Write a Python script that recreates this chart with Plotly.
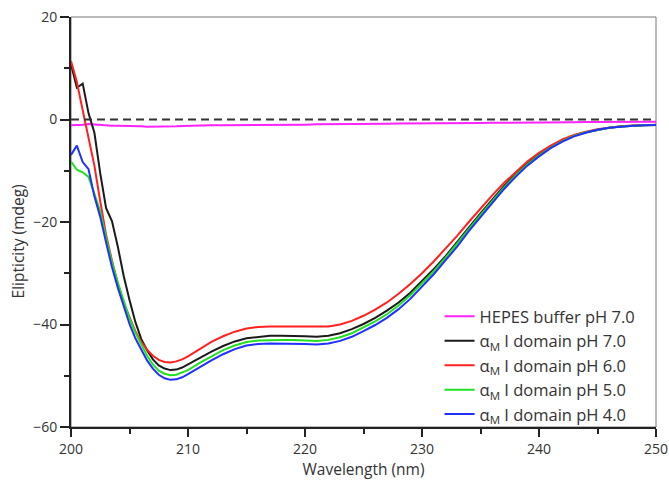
import plotly.graph_objects as go

# Wavelength grid (nm): 0.5 nm steps up to 210 nm, then 1 nm steps
wavelength = [200 + 0.5 * i for i in range(21)] + list(range(211, 251))

# Ellipticity (mdeg) for each sample
hepes_ph70 = [-1.1, -1.1, -1.0, -0.9, -1.0, -1.1, -1.1, -1.2, -1.2, -1.2, -1.2,
              -1.3, -1.3, -1.4, -1.4, -1.4, -1.4, -1.35, -1.3, -1.25, -1.2,
              -1.15, -1.1, -1.1, -1.1, -1.05, -1.05, -1.0, -1.0, -1.0, -1.0,
              -0.95, -0.95, -0.9, -0.9, -0.9, -0.85, -0.85, -0.8, -0.8, -0.8,
              -0.75, -0.75, -0.7, -0.7, -0.7, -0.65, -0.65, -0.6, -0.6, -0.6,
              -0.55, -0.55, -0.55, -0.5, -0.5, -0.5, -0.5, -0.45, -0.45, -0.45]

domain_ph70 = [10.8, 6.2, 7.0, 1.2, -2.6, -10.5, -17.3, -19.8, -24.8, -30.5,
               -35.2, -39.5, -42.8, -45.0, -46.8, -48.0, -48.6, -48.9, -48.8,
               -48.4, -47.8,
               -46.5, -45.3, -44.2, -43.3, -42.7, -42.4, -42.2, -42.2, -42.2,
               -42.3, -42.4, -42.2, -41.7, -40.9, -39.9, -38.7, -37.3, -35.7,
               -33.8, -31.6, -29.2, -26.7, -24.0, -21.1, -18.3, -15.6, -13.0,
               -10.7, -8.6, -6.8, -5.3, -4.1, -3.1, -2.5, -2.0, -1.6, -1.35,
               -1.2, -1.1, -1.05]

domain_ph60 = [11.4, 7.3, 1.8, -3.5, -9.0, -16.0, -22.5, -27.5, -32.0, -35.8,
               -38.5, -41.3, -43.4, -44.9, -46.1, -46.9, -47.3, -47.4, -47.2,
               -46.8, -46.2,
               -44.8, -43.4, -42.3, -41.4, -40.8, -40.5, -40.4, -40.4, -40.4,
               -40.5, -40.5, -40.4, -40.0, -39.3, -38.3, -37.1, -35.7, -34.0,
               -32.1, -30.0, -27.7, -25.3, -22.7, -20.0, -17.3, -14.8, -12.4,
               -10.2, -8.2, -6.5, -5.1, -3.9, -3.0, -2.4, -1.9, -1.6, -1.3,
               -1.15, -1.05, -1.0]

domain_ph50 = [-8.2, -9.8, -10.3, -11.2, -14.5, -18.0, -23.0, -27.8, -31.8,
               -35.3, -38.8, -41.6, -44.0, -46.1, -47.8, -49.0, -49.6, -49.9,
               -49.8, -49.4, -48.9,
               -47.5, -46.2, -45.0, -44.1, -43.4, -43.1, -43.0, -43.0, -43.0,
               -43.1, -43.2, -43.0, -42.5, -41.7, -40.6, -39.4, -38.0, -36.3,
               -34.3, -32.0, -29.6, -27.0, -24.3, -21.4, -18.6, -15.9, -13.3,
               -10.9, -8.8, -7.0, -5.5, -4.2, -3.2, -2.5, -2.0, -1.6, -1.35,
               -1.2, -1.1, -1.05]

domain_ph40 = [-6.9, -5.1, -8.3, -9.7, -15.0, -19.0, -24.0, -28.8, -32.8, -36.6,
               -39.9, -42.7, -45.0, -47.0, -48.6, -49.8, -50.5, -50.8, -50.7,
               -50.3, -49.7,
               -48.3, -47.0, -45.8, -44.8, -44.1, -43.8, -43.7, -43.7, -43.7,
               -43.8, -43.9, -43.7, -43.2, -42.4, -41.3, -40.1, -38.7, -37.0,
               -35.0, -32.7, -30.2, -27.5, -24.8, -21.8, -19.0, -16.2, -13.6,
               -11.2, -9.0, -7.2, -5.6, -4.3, -3.3, -2.6, -2.0, -1.6, -1.35,
               -1.2, -1.1, -1.05]

series = [
    ("HEPES buffer pH 7.0", hepes_ph70, "#ff22ff"),
    ("α<sub>M</sub> I domain pH 7.0", domain_ph70, "#1a1a1a"),
    ("α<sub>M</sub> I domain pH 6.0", domain_ph60, "#ff2020"),
    ("α<sub>M</sub> I domain pH 5.0", domain_ph50, "#20e020"),
    ("α<sub>M</sub> I domain pH 4.0", domain_ph40, "#2030ff"),
]

FONT = "Open Sans, Noto Sans, sans-serif"

fig = go.Figure()

for name, values, color in series:
    fig.add_trace(go.Scatter(
        x=wavelength, y=values, mode="lines", name=name,
        line=dict(color=color, width=2),
    ))

# Zero reference line
fig.add_hline(y=0, line=dict(color="#333333", width=2, dash="8px,5px"))

# Thin frame on top/right
fig.add_shape(type="rect", xref="paper", yref="paper", x0=0, x1=1, y0=0, y1=1,
              line=dict(color="#777777", width=1), layer="below")

# Y-axis title
fig.add_annotation(
    text="Elipticity (mdeg)", textangle=-90, showarrow=False,
    xref="paper", yref="paper", x=-0.091, y=0.452,
    xanchor="center", yanchor="middle",
    font=dict(family=FONT, size=15.5, color="#333333"),
)

fig.update_layout(
    width=669, height=480,
    margin=dict(l=71, r=13, t=17, b=53, autoexpand=False),
    paper_bgcolor="white", plot_bgcolor="white",
    font=dict(family=FONT, size=14, color="#333333"),
    showlegend=True,
    legend=dict(
        x=0.630, y=0.312, xanchor="left", yanchor="top",
        bgcolor="rgba(0,0,0,0)", borderwidth=0,
        font=dict(family=FONT, size=16.5, color="#333333"),
        tracegroupgap=0,
    ),
)

fig.update_xaxes(
    range=[200, 250], tickvals=[200, 210, 220, 230, 240, 250],
    ticks="outside", ticklen=8, tickwidth=2, tickcolor="#222222",
    showline=True, linecolor="#222222", linewidth=2,
    showgrid=False, zeroline=False, automargin=False,
    minor=dict(dtick=5, ticks="outside", ticklen=5, tickwidth=2, tickcolor="#222222", showgrid=False),
    title=dict(text="Wavelength (nm)", font=dict(size=15.5)),
    tickfont=dict(size=14),
)

fig.update_yaxes(
    range=[-60, 20], tickvals=[-60, -40, -20, 0, 20],
    ticks="outside", ticklen=9, tickwidth=2, tickcolor="#222222",
    showline=True, linecolor="#222222", linewidth=2,
    showgrid=False, zeroline=False, automargin=False,
    minor=dict(dtick=10, ticks="outside", ticklen=5, tickwidth=2, tickcolor="#222222", showgrid=False),
    tickfont=dict(size=14),
)

fig.write_html("out.html")
